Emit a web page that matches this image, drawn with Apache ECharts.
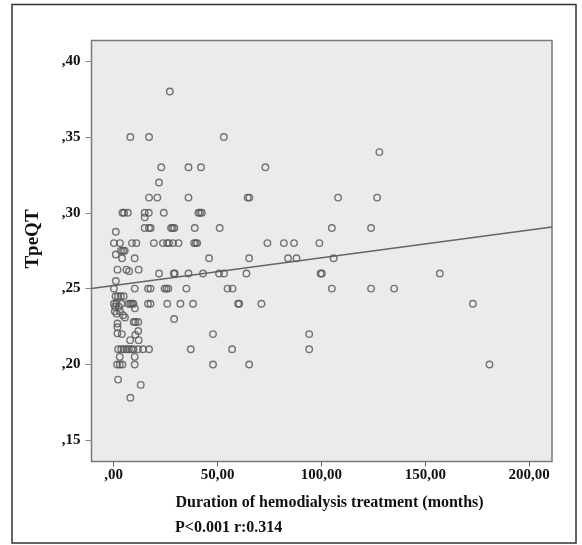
<!DOCTYPE html>
<html>
<head>
<meta charset="utf-8">
<script src="https://cdn.jsdelivr.net/npm/echarts@6/dist/echarts.min.js"></script>
<style>
  html, body { margin: 0; padding: 0; background: #fff; }
  #chart { width: 582px; height: 545px; }
</style>
</head>
<body>
<div id="chart"></div>
<script>
// duration of hemodialysis (months) and TpeQT, one entry per patient
var durationMonths = [
  27.0,
  8.0, 17.0, 53.0,
  127.9,
  22.9, 36.0, 42.0, 73.0,
  21.8,
  17.0, 21.0, 36.0, 64.5, 65.3, 108.0, 126.8,
  4.2, 5.0, 6.8, 14.9, 16.9, 24.1, 40.8, 41.6, 42.4,
  14.9,
  14.9, 17.0, 17.8, 27.6, 28.4, 29.2, 39.0, 51.0, 105.0, 123.9,
  1.0,
  0.1, 3.0, 8.8, 10.9, 19.3, 23.7, 25.7, 26.6, 28.6, 31.2, 38.7, 39.5, 40.2, 74.0, 81.9, 86.8, 99.0,
  3.5, 4.5, 5.3,
  1.0,
  4.0, 10.1, 45.9, 65.2, 83.9, 88.0, 105.9,
  1.8, 6.1, 12.0,
  7.4,
  21.8, 28.9, 29.4, 36.0, 43.0, 50.7, 53.1, 63.9, 99.6, 100.2, 157.0,
  1.0,
  0.1, 10.1, 16.5, 17.7, 24.5, 25.4, 26.3, 35.0, 54.8, 57.2, 105.0, 123.9, 135.0,
  0.9, 2.1, 3.4, 4.8,
  0.1, 1.3, 3.7, 7.1, 8.0, 8.8, 9.5, 16.5, 17.7, 25.8, 32.1, 38.2, 59.9, 60.4, 71.1, 172.9,
  0.6, 2.5,
  10.2,
  0.5, 3.0,
  1.4,
  4.5,
  5.4,
  29.1,
  9.6, 10.4, 11.8,
  1.8,
  1.8,
  11.8,
  1.8,
  3.9, 47.8, 94.1,
  10.4,
  7.9, 12.0,
  2.1, 3.6, 4.8, 6.1, 7.3, 8.5, 9.5, 11.7, 14.1, 17.0, 37.1, 57.0, 94.1,
  2.9, 10.1,
  1.6, 2.9, 4.2, 10.1, 47.8, 65.2, 180.9,
  2.1,
  13.0,
  8.0
];
var tpeqt = [
  0.38,
  0.35, 0.35, 0.35,
  0.34,
  0.33, 0.33, 0.33, 0.33,
  0.32,
  0.31, 0.31, 0.31, 0.31, 0.31, 0.31, 0.31,
  0.30, 0.30, 0.30, 0.30, 0.30, 0.30, 0.30, 0.30, 0.30,
  0.297,
  0.29, 0.29, 0.29, 0.29, 0.29, 0.29, 0.29, 0.29, 0.29, 0.29,
  0.2875,
  0.28, 0.28, 0.28, 0.28, 0.28, 0.28, 0.28, 0.28, 0.28, 0.28, 0.28, 0.28, 0.28, 0.28, 0.28, 0.28, 0.28,
  0.275, 0.275, 0.275,
  0.2725,
  0.27, 0.27, 0.27, 0.27, 0.27, 0.27, 0.27,
  0.2625, 0.2625, 0.2625,
  0.2615,
  0.26, 0.26, 0.26, 0.26, 0.26, 0.26, 0.26, 0.26, 0.26, 0.26, 0.26,
  0.255,
  0.25, 0.25, 0.25, 0.25, 0.25, 0.25, 0.25, 0.25, 0.25, 0.25, 0.25, 0.25, 0.25,
  0.245, 0.245, 0.245, 0.245,
  0.24, 0.24, 0.24, 0.24, 0.24, 0.24, 0.24, 0.24, 0.24, 0.24, 0.24, 0.24, 0.24, 0.24, 0.24, 0.24,
  0.238, 0.238,
  0.237,
  0.235, 0.235,
  0.2335,
  0.2325,
  0.231,
  0.23,
  0.228, 0.228, 0.228,
  0.227,
  0.2245,
  0.222,
  0.2205,
  0.22, 0.22, 0.22,
  0.2195,
  0.216, 0.216,
  0.21, 0.21, 0.21, 0.21, 0.21, 0.21, 0.21, 0.21, 0.21, 0.21, 0.21, 0.21, 0.21,
  0.205, 0.205,
  0.20, 0.20, 0.20, 0.20, 0.20, 0.20, 0.20,
  0.19,
  0.1865,
  0.178
];
// fit line end points (at the edges of the x range)
var fitX = [-10.7, 211.0];
var fitY = [0.2500, 0.2906];

var xTicks = [0, 50, 100, 150, 200];
var xTickLabels = [',00', '50,00', '100,00', '150,00', '200,00'];
var yTicks = [0.15, 0.20, 0.25, 0.30, 0.35, 0.40];
var yTickLabels = [',15', ',20', ',25', ',30', ',35', ',40'];

var font = 'Liberation Serif, Times New Roman, serif';

function tickLabel(ticks, labels) {
  return function (v) {
    for (var i = 0; i < ticks.length; i++) {
      if (Math.abs(ticks[i] - v) < 1e-6) return labels[i];
    }
    return '';
  };
}

var points = [];
for (var i = 0; i < durationMonths.length; i++) {
  points.push([durationMonths[i], tpeqt[i]]);
}
var fitLine = [];
for (var j = 0; j < fitX.length; j++) {
  fitLine.push([fitX[j], fitY[j]]);
}

var chart = echarts.init(document.getElementById('chart'), null, { renderer: 'canvas' });
var option = {
  backgroundColor: '#ffffff',
  animation: false,
  grid: {
    left: 91.5,
    top: 40.5,
    width: 460.5,
    height: 421,
    show: true,
    backgroundColor: '#ebebed',
    borderColor: '#7a7a7a',
    borderWidth: 1.5
  },
  xAxis: {
    type: 'value',
    min: -10.7,
    max: 211,
    splitLine: { show: false },
    axisLine: { show: false, onZero: false },
    axisTick: { show: true, customValues: xTicks, length: 5, lineStyle: { color: '#666', width: 1 } },
    axisLabel: {
      customValues: xTicks,
      formatter: tickLabel(xTicks, xTickLabels),
      margin: 6,
      color: '#111',
      fontFamily: font,
      fontWeight: 'bold',
      fontSize: 15
    }
  },
  yAxis: {
    type: 'value',
    min: 0.136,
    max: 0.4136,
    splitLine: { show: false },
    axisLine: { show: false, onZero: false },
    axisTick: { show: true, customValues: yTicks, length: 6, lineStyle: { color: '#888', width: 1 } },
    axisLabel: {
      customValues: yTicks,
      formatter: tickLabel(yTicks, yTickLabels),
      margin: 11,
      color: '#111',
      fontFamily: font,
      fontWeight: 'bold',
      fontSize: 15
    }
  },
  graphic: [
    {
      type: 'rect',
      shape: { x: 12, y: 4.5, width: 564, height: 538.5 },
      style: { fill: null, stroke: '#333', lineWidth: 1.5 },
      silent: true
    },
    {
      type: 'text',
      x: 33, y: 239,
      rotation: Math.PI / 2,
      style: {
        text: 'TpeQT', fill: '#111', font: 'bold 19px ' + font,
        align: 'center', verticalAlign: 'middle'
      }
    },
    {
      type: 'text',
      x: 175.5, y: 503,
      style: {
        text: 'Duration of hemodialysis treatment (months)', fill: '#111',
        font: 'bold 16px ' + font, align: 'left', verticalAlign: 'middle'
      }
    },
    {
      type: 'text',
      x: 175, y: 528,
      style: {
        text: 'P<0.001 r:0.314', fill: '#111',
        font: 'bold 16px ' + font, align: 'left', verticalAlign: 'middle'
      }
    }
  ],
  series: [
    {
      type: 'scatter',
      data: points,
      symbol: 'circle',
      symbolSize: 6.5,
      itemStyle: { color: 'rgba(0,0,0,0)', borderColor: '#555', borderWidth: 1.4 },
      z: 3
    },
    {
      type: 'line',
      data: fitLine,
      symbol: 'none',
      lineStyle: { color: '#666', width: 1.5 },
      z: 2
    }
  ]
};
chart.setOption(option);
</script>
</body>
</html>
